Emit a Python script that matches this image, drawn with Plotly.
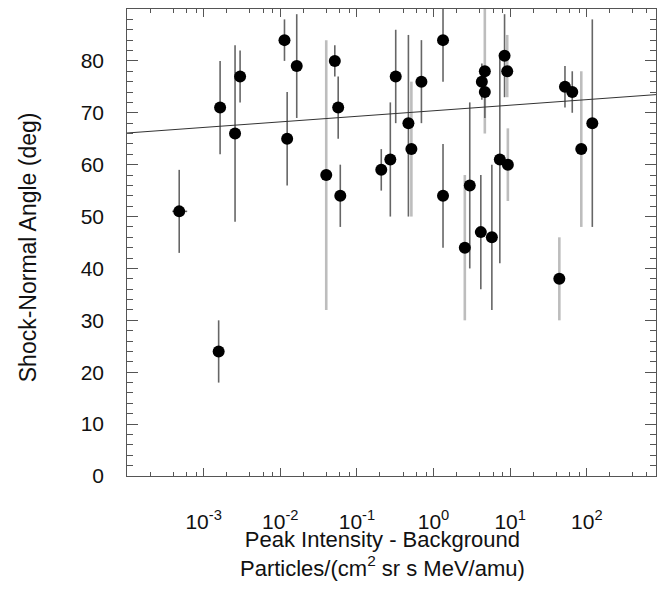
import plotly.graph_objects as go

# ---- data ----
intensity = [4.8e-4, 1.57e-3, 1.64e-3, 2.57e-3, 2.99e-3, 1.135e-2, 1.23e-2, 1.64e-2,
             3.98e-2, 5.15e-2, 5.7e-2, 6.07e-2, 0.208, 0.273, 0.321, 0.47, 0.514,
             0.695, 1.33, 1.33, 2.56, 2.97, 4.14, 4.27, 4.67, 4.67, 5.77, 7.33,
             8.45, 9.15, 9.33, 43.8, 51.9, 64.6, 84.7, 118.0]
angle = [51, 24, 71, 66, 77, 84, 65, 79,
         58, 80, 71, 54, 59, 61, 77, 68, 63,
         76, 84, 54, 44, 56, 47, 76, 78, 74, 46, 61,
         81, 78, 60, 38, 75, 74, 63, 68]
angle_low = [43, 18, 62, 49, 72, 80, 56, 69,
             32, 77, 65, 48, 55, 50, 68, 50, 50,
             68, 76, 44, 30, 40, 36, 72.5, 66, 69, 32, 41,
             73, 73, 53, 30, 71, 70, 48, 48]
angle_high = [59, 30, 80, 83, 82, 88, 74, 89,
              84, 83, 77, 60, 63, 72, 86, 85, 76,
              84, 90, 64, 58, 72, 58, 79.5, 90, 74.5, 60, 81.5,
              89, 85, 67, 46, 79, 78, 78, 88]
bar_tone = ["dark", "dark", "dark", "dark", "dark", "dark", "dark", "dark",
            "light", "dark", "dark", "dark", "dark", "dark", "dark", "dark", "light",
            "dark", "dark", "dark", "light", "dark", "dark", "dark", "light", "dark", "dark", "dark",
            "dark", "light", "light", "light", "dark", "dark", "light", "dark"]
intensity_low = [3.9e-4] + [None] * 35
intensity_high = [6.1e-4] + [None] * 35

fit_x = [1e-4, 800]
fit_y = [66.1, 73.5]

x_range_log = [-4, 2.903]
y_range = [0, 90]
x_tick_vals = [1e-3, 1e-2, 1e-1, 1e0, 1e1, 1e2]
x_tick_exp = ["-3", "-2", "-1", "0", "1", "2"]
x_minor_mult = [2, 4, 6, 8]
y_tick_vals = [0, 10, 20, 30, 40, 50, 60, 70, 80, 90]
y_minor_vals = [v for v in range(0, 91, 2) if v % 10]

x_title = "Peak Intensity - Background<br>Particles/(cm<sup>2</sup> sr s MeV/amu)"
y_title = "Shock-Normal Angle (deg)"

FONT = "Liberation Sans, Arial, Helvetica"
INK = "#111111"

# ---- figure ----
fig = go.Figure()

tone_style = {"dark": dict(color="#666666", thickness=1.6),
              "light": dict(color="#bdbdbd", thickness=2.6)}
for tone in ["light", "dark"]:
    idx = [i for i, t in enumerate(bar_tone) if t == tone]
    xs = [intensity[i] for i in idx]
    ys = [angle[i] for i in idx]
    ep = [angle_high[i] - angle[i] for i in idx]
    em = [angle[i] - angle_low[i] for i in idx]
    exp_ = [(intensity_high[i] - intensity[i]) if intensity_high[i] else 0 for i in idx]
    exm_ = [(intensity[i] - intensity_low[i]) if intensity_low[i] else 0 for i in idx]
    fig.add_trace(go.Scatter(
        x=xs, y=ys, mode="markers",
        marker=dict(size=1, color="rgba(0,0,0,0)"),
        error_y=dict(type="data", symmetric=False, array=ep, arrayminus=em,
                     width=0, **tone_style[tone]),
        error_x=dict(type="data", symmetric=False, array=exp_, arrayminus=exm_,
                     width=0, color="#666666", thickness=1.6),
        showlegend=False, hoverinfo="skip"))

fig.add_trace(go.Scatter(x=fit_x, y=fit_y, mode="lines",
                         line=dict(color="#333333", width=1), showlegend=False))

fig.add_trace(go.Scatter(x=intensity, y=angle, mode="markers",
                         marker=dict(size=12, color="black"), showlegend=False))

# invisible anchors for the overlay axes (minor ticks, tick labels)
for ax_x, ax_y in [("x2", "y2"), ("x3", "y3")]:
    fig.add_trace(go.Scatter(x=[intensity[0]], y=[angle[0]], xaxis=ax_x, yaxis=ax_y,
                             mode="markers", marker=dict(size=1, color="rgba(0,0,0,0)"),
                             showlegend=False, hoverinfo="skip"))

tick_base = dict(showgrid=False, zeroline=False, showline=True, linecolor="#555555",
                 linewidth=1, mirror="ticks", ticks="inside",
                 tickcolor="#555555", automargin=False, showticklabels=False)
label_base = dict(showgrid=False, zeroline=False, showline=False, ticks="",
                  automargin=False, tickmode="array",
                  tickfont=dict(family=FONT, size=21, color=INK))

fig.update_layout(
    width=663, height=589, margin=dict(l=127, r=7, t=9, b=113),
    paper_bgcolor="white", plot_bgcolor="white",
    xaxis=dict(type="log", range=x_range_log, ticklen=8, tickwidth=1.2,
               tickmode="array", tickvals=x_tick_vals, **tick_base),
    yaxis=dict(range=y_range, ticklen=11, tickwidth=1.2,
               tickmode="array", tickvals=y_tick_vals, **tick_base),
    xaxis2=dict(type="log", range=x_range_log, overlaying="x", anchor="y2", ticklen=4,
                tickwidth=1, tickmode="array",
                tickvals=[m * 10 ** e for e in range(-4, 3) for m in x_minor_mult],
                **tick_base),
    yaxis2=dict(range=y_range, overlaying="y", anchor="x2", ticklen=6, tickwidth=1,
                tickmode="array", tickvals=y_minor_vals, **tick_base),
    xaxis3=dict(type="log", range=x_range_log, overlaying="x", anchor="y3",
                tickvals=x_tick_vals,
                ticktext=["10<sup>%s</sup>" % e for e in x_tick_exp],
                ticklabelstandoff=31, **label_base),
    yaxis3=dict(range=y_range, overlaying="y", anchor="x3",
                tickvals=y_tick_vals, ticklabelstandoff=22, **label_base),
    annotations=[
        dict(text=x_title, xref="paper", yref="paper", x=0.483, y=-0.168,
             xanchor="center", yanchor="middle", showarrow=False,
             font=dict(family=FONT, size=22, color=INK)),
        dict(text=y_title, xref="paper", yref="paper", x=-0.187, y=0.49,
             xanchor="center", yanchor="middle", textangle=-90, showarrow=False,
             font=dict(family=FONT, size=23, color=INK)),
    ],
)

fig.write_html("out.html", config={"displayModeBar": False},
               post_script="document.body.style.margin='0';document.body.style.padding='0';")
